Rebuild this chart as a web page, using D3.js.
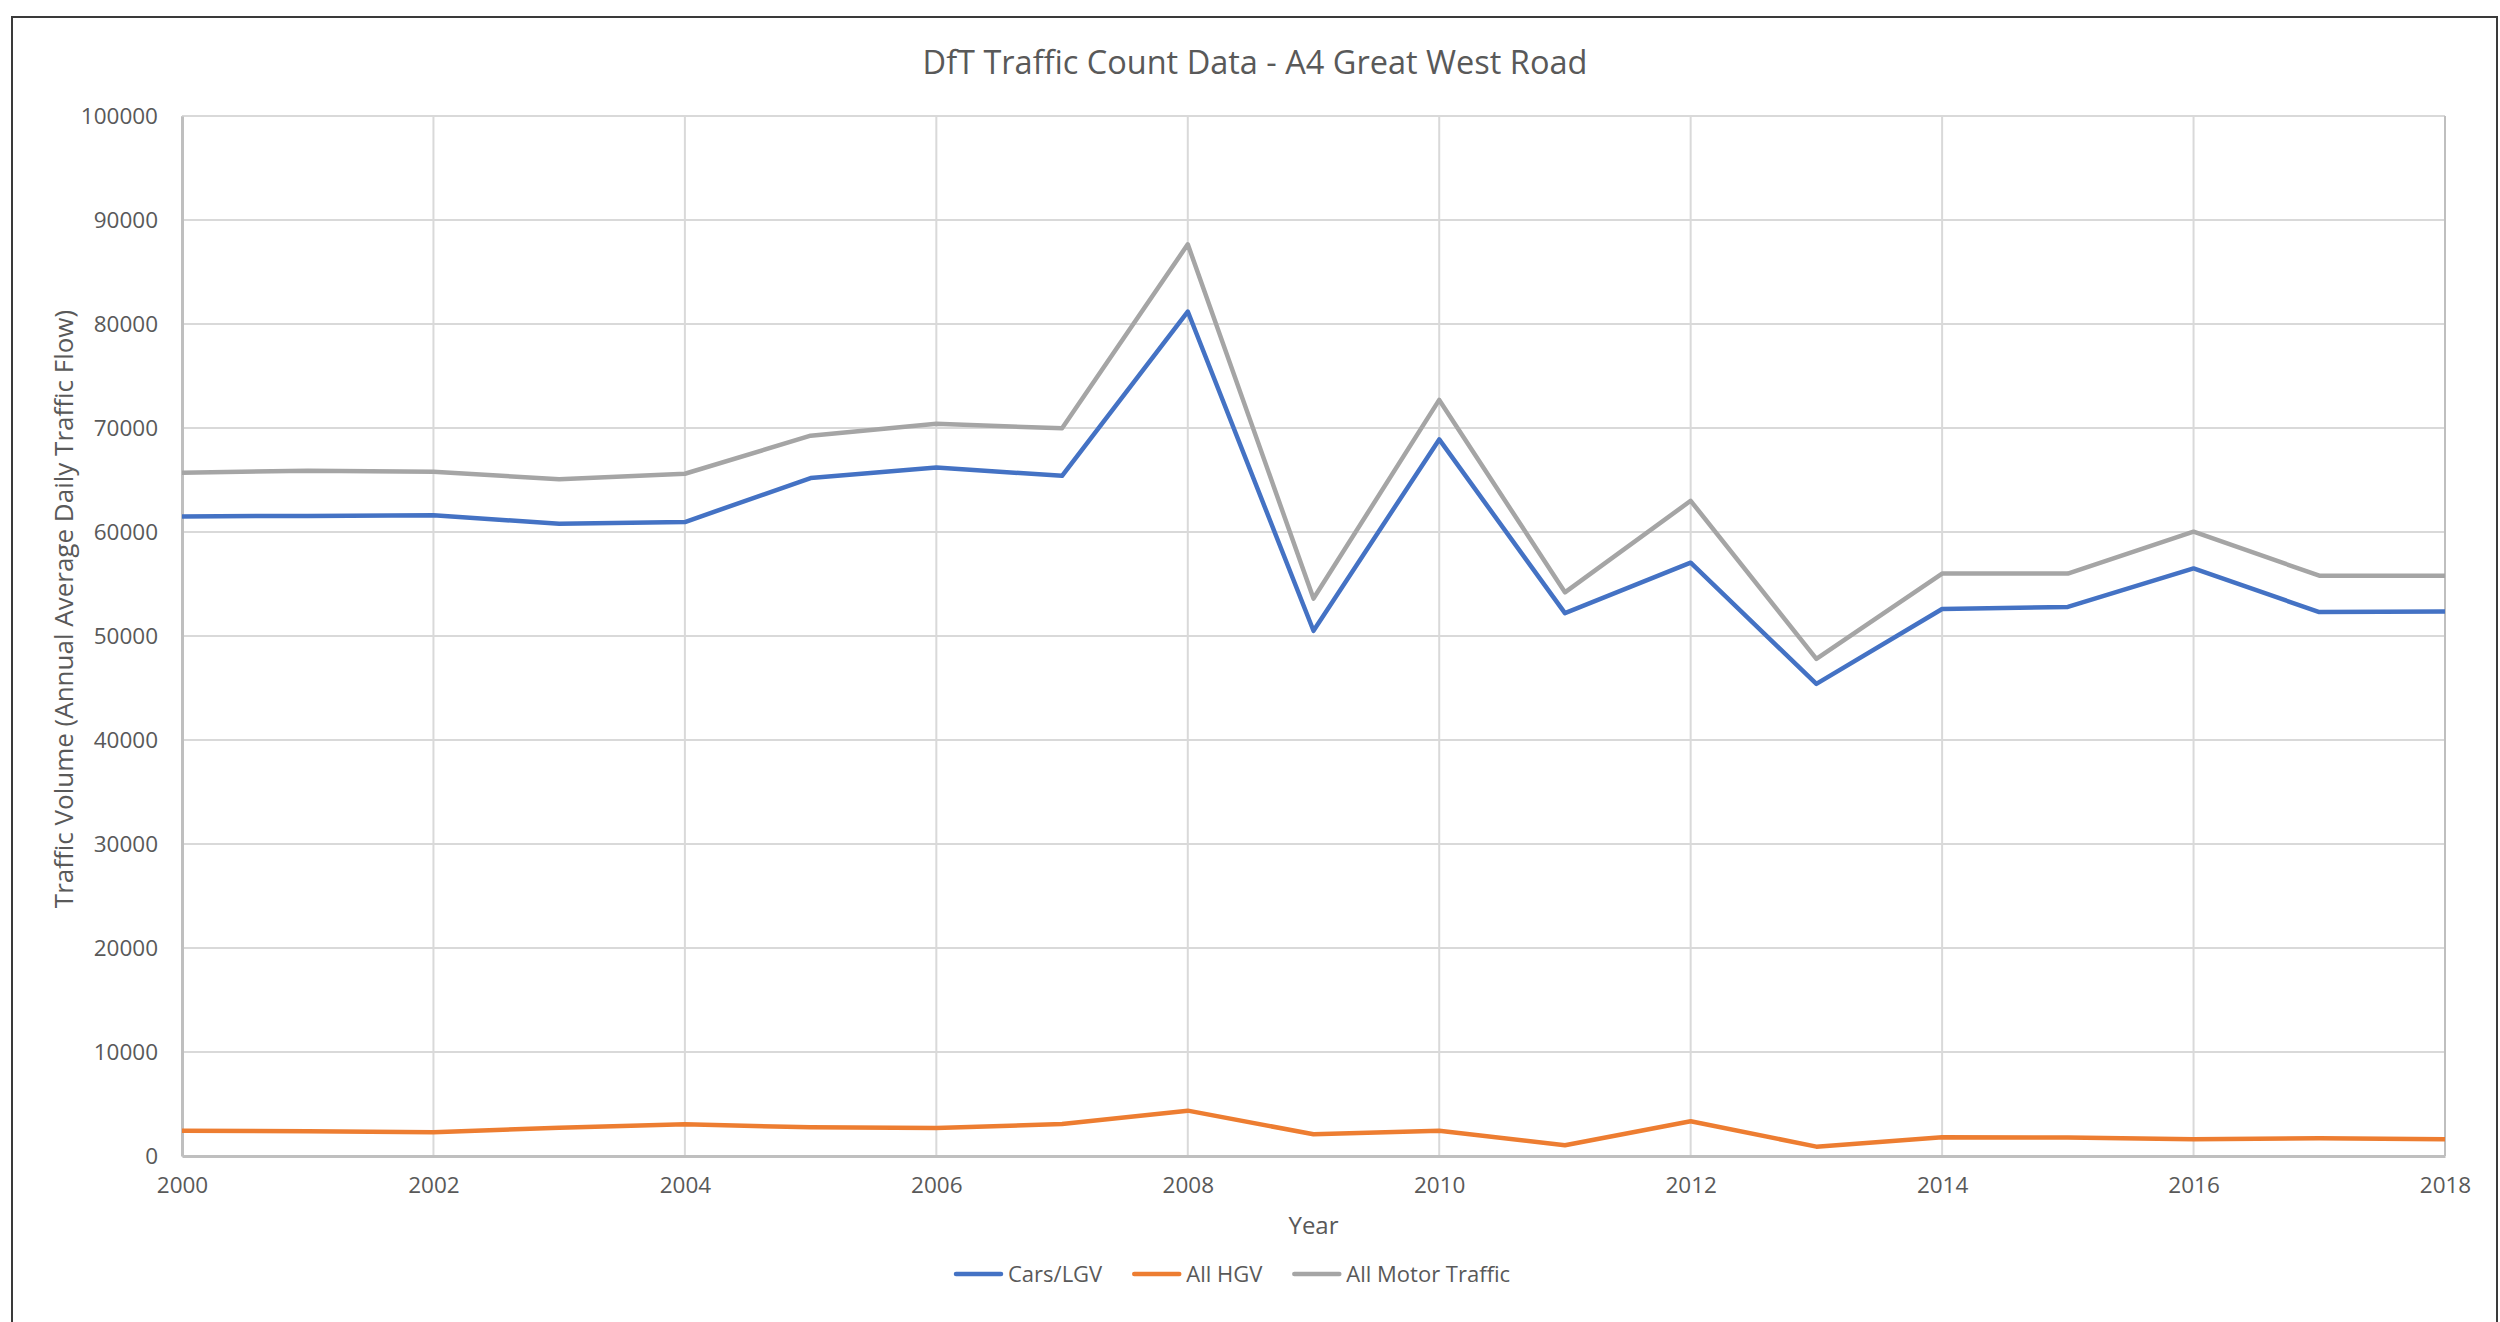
<!DOCTYPE html>
<html>
<head>
<meta charset="utf-8">
<script src="https://cdn.jsdelivr.net/npm/d3@7"></script>
<style>
  body { margin: 0; background: #fff; }
  svg text { font-family: "Open Sans", "Noto Sans", sans-serif; fill: #595959; }
</style>
</head>
<body>
<div id="chart"></div>
<script>
// ==== Data ====
const years = [2000, 2001, 2002, 2003, 2004, 2005, 2006, 2007, 2008, 2009,
               2010, 2011, 2012, 2013, 2014, 2015, 2016, 2017, 2018];
const carsLgv = [61500, 61550, 61600, 60800, 60960, 65190, 66200, 65400, 81200, 50500,
                 68900, 52200, 57050, 45400, 52600, 52800, 56500, 52300, 52350];
const allHgv = [2430, 2380, 2280, 2720, 3050, 2760, 2690, 3080, 4360, 2090,
                2430, 1030, 3340, 900, 1800, 1770, 1600, 1700, 1600];
const allMotor = [65700, 65900, 65800, 65070, 65600, 69260, 70400, 69970, 87660, 53600,
                  72700, 54200, 63000, 47800, 56000, 56000, 60030, 55800, 55800];
const yTicks = [0, 10000, 20000, 30000, 40000, 50000, 60000, 70000, 80000, 90000, 100000];
const xTicks = [2000, 2002, 2004, 2006, 2008, 2010, 2012, 2014, 2016, 2018];

const series = [
    { name: "Cars/LGV", values: carsLgv, color: "#4472C4" },
    { name: "All HGV", values: allHgv, color: "#ED7D31" },
    { name: "All Motor Traffic", values: allMotor, color: "#A5A5A5" }
];

// ==== Layout ====
const W = 2500, H = 1322;
const margin = { top: 116, right: 55, bottom: 166, left: 182 };
const width = W - margin.left - margin.right;
const height = H - margin.top - margin.bottom;

const svg = d3.select("#chart")
              .append("svg")
              .attr("width", W)
              .attr("height", H);

// chart frame
svg.append("rect")
    .attr("x", 12).attr("y", 17)
    .attr("width", 2485).attr("height", 1340)
    .attr("fill", "none")
    .attr("stroke", "#3a3a3a")
    .attr("stroke-width", 2);

svg.append("text")
    .attr("x", 1255).attr("y", 74)
    .attr("text-anchor", "middle")
    .style("font-size", "32.5px")
    .text("DfT Traffic Count Data - A4 Great West Road");

const g = svg.append("g").attr("transform", `translate(${margin.left},${margin.top})`);

const x = d3.scaleLinear().domain([2000, 2018]).range([0, width]);
const y = d3.scaleLinear().domain([0, 100000]).range([height, 0]);

// gridlines
g.append("g")
    .selectAll("line")
    .data(yTicks)
    .enter()
    .append("line")
    .attr("x1", 0).attr("x2", width)
    .attr("y1", d => y(d)).attr("y2", d => y(d))
    .attr("stroke", "#D9D9D9")
    .attr("stroke-width", 2);

g.append("g")
    .selectAll("line")
    .data(xTicks)
    .enter()
    .append("line")
    .attr("x1", d => x(d)).attr("x2", d => x(d))
    .attr("y1", 0).attr("y2", height)
    .attr("stroke", "#D9D9D9")
    .attr("stroke-width", 2);

// axes
const yAxis = g.append("g")
    .call(d3.axisLeft(y).tickValues(yTicks).tickSize(0).tickPadding(24).tickFormat(d3.format("d")));
const xAxis = g.append("g")
    .attr("transform", `translate(0,${height})`)
    .call(d3.axisBottom(x).tickValues(xTicks).tickSize(0).tickPadding(21).tickFormat(d3.format("d")));

[yAxis, xAxis].forEach(a => {
    a.select(".domain").attr("stroke", "#BFBFBF").attr("stroke-width", 3);
    a.selectAll("text")
     .style("font-size", "22.5px")
     .style("font-family", "\"Open Sans\", sans-serif")
     .attr("fill", "#595959");
});

// right border of plot
g.append("line")
    .attr("x1", width).attr("x2", width)
    .attr("y1", 0).attr("y2", height)
    .attr("stroke", "#BFBFBF").attr("stroke-width", 2);

// lines
const line = d3.line()
    .x((d, i) => x(years[i]))
    .y(d => y(d));

g.selectAll("path.series")
    .data(series)
    .enter()
    .append("path")
    .attr("class", "series")
    .attr("fill", "none")
    .attr("stroke", d => d.color)
    .attr("stroke-width", 4.5)
    .attr("stroke-linejoin", "round")
    .attr("d", d => line(d.values));

// axis titles
svg.append("text")
    .attr("x", margin.left + width / 2).attr("y", 1234)
    .attr("text-anchor", "middle")
    .style("font-size", "24px")
    .text("Year");

svg.append("text")
    .attr("transform", "translate(73,609) rotate(-90)")
    .attr("text-anchor", "middle")
    .style("font-size", "26px")
    .text("Traffic Volume (Annual Average Daily Traffic Flow)");

// ==== Legend ====
const legend = svg.append("g").attr("transform", "translate(956,1274)");
let lx = 0;
series.forEach(s => {
    legend.append("line")
        .attr("x1", lx).attr("x2", lx + 45)
        .attr("y1", 0).attr("y2", 0)
        .attr("stroke", s.color)
        .attr("stroke-width", 4.5)
        .attr("stroke-linecap", "round");
    const t = legend.append("text")
        .attr("x", lx + 52).attr("y", 8)
        .style("font-size", "22px")
        .text(s.name);
    lx += 52 + t.node().getComputedTextLength() + 32;
});
</script>
</body>
</html>
